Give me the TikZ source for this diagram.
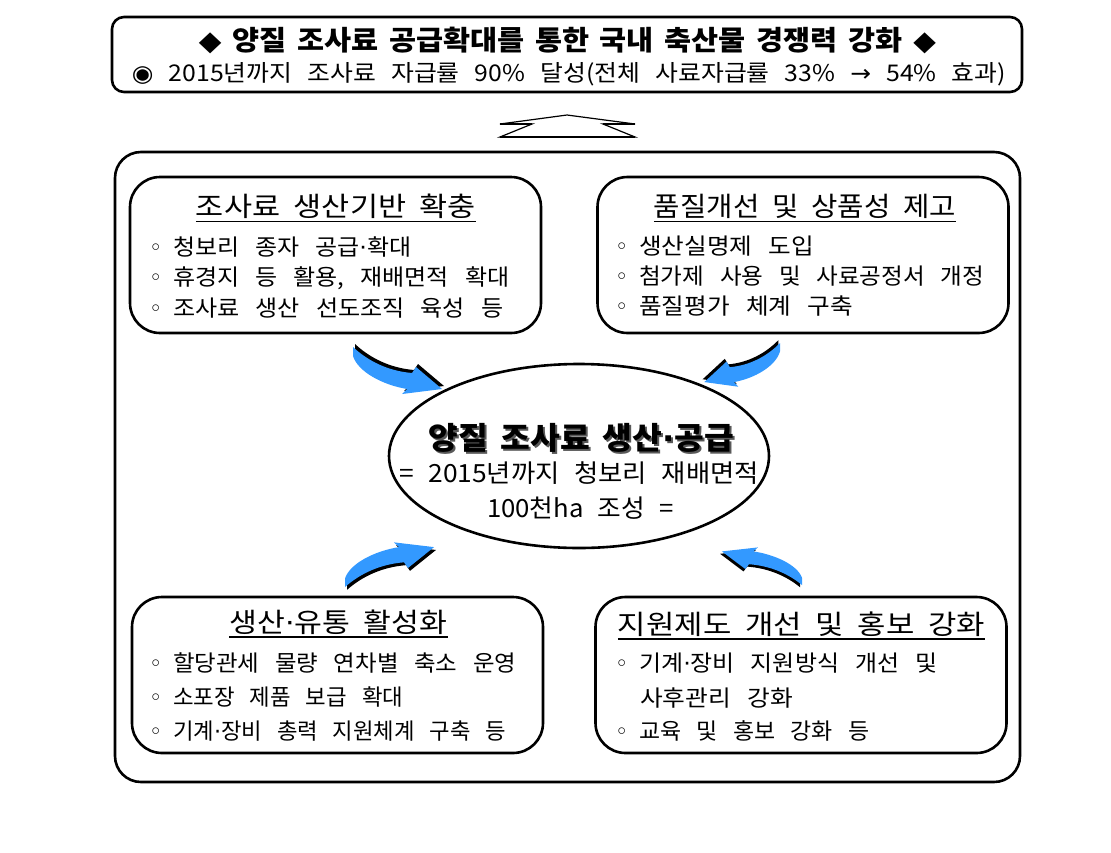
\documentclass[tikz,border=0pt]{standalone}
\usepackage{graphicx}
\usepackage{fontspec}
\setmainfont{Noto Sans CJK KR}
\newfontfamily\symfont{DejaVu Sans}
\definecolor{arrowblue}{RGB}{51,153,255}
\newcommand\bul{\makebox[24pt][l]{\symfont ◦}}
\newcommand\md{{\symfont ·}}
\newcommand\wsp[1]{\spaceskip#1\relax}
\newcommand\fitw[2]{\resizebox{#1pt}{\height}{#2}}
\begin{document}
\begin{tikzpicture}[x=1pt,y=-1pt,
  frame/.style={draw, line width=2.6pt, fill=white},
  panel/.style={frame, rounded corners=30pt, minimum width=411pt, minimum height=156pt, inner sep=0},
  ttl/.style={anchor=base, inner sep=0, font={\fontsize{27}{30}\selectfont\wsp{12pt}}},
  item/.style={anchor=base west, inner sep=0, font={\fontsize{22.5}{26}\selectfont\wsp{15pt}}},
  ctitle/.style={anchor=base, inner sep=0, font={\bfseries\fontsize{31}{34}\selectfont\wsp{12pt}}},
  cline/.style={anchor=base, inner sep=0, font={\fontsize{25}{28}\selectfont\wsp{14pt}}},
  uline/.style={line width=1.5pt},
  bluearrow/.pic={
    \fill[black, shift={(2,-3)}] (0,0) .. controls (15,14) and (35,24) .. (59,26) -- (63,20) -- (89,42) -- (49,47) -- (54,42) .. controls (30,38) and (5,25) .. (0,9) -- cycle;
    \fill[arrowblue] (0,0) .. controls (15,14) and (35,24) .. (59,26) -- (63,20) -- (89,42) -- (49,47) -- (54,42) .. controls (30,38) and (5,25) .. (0,9) -- cycle;
  }]
\useasboundingbox (0,0) rectangle (1111,852);

% top goal box
\node[frame, rounded corners=12pt, minimum width=910pt, minimum height=75pt, inner sep=0] (goal) at (567,54.5) {};
\node[anchor=base, inner sep=0, font={\bfseries\fontsize{27.5}{30}\selectfont\wsp{10pt}}] (goalt) at (567.5,50) {\fitw{737}{{\symfont ◆} 양질 조사료 공급확대를 통한 국내 축산물 경쟁력 강화 {\symfont ◆}}};
\node[anchor=base, inner sep=0, font={\fontsize{23}{26}\selectfont\wsp{14pt}}] (goals) at (569,81) {\fitw{874}{{\symfont ◉} 2015년까지 조사료 자급률 90\% 달성(전체 사료자급률 33\% {\symfont →} 54\% 효과)}};

% up arrow shape
\coordinate (ua) at (567,115);
\draw[line width=1.2pt, fill=white, line join=miter] (500,124) -- (ua) -- (635,124) -- (603,124) -- (635,137) -- (500,137) -- (532,124) -- cycle;
\draw[line width=2.4pt] (500,124) -- (532,124) (603,124) -- (635,124) (500,137) -- (635,137);

% outer frame
\node[frame, rounded corners=26pt, minimum width=905pt, minimum height=630pt, inner sep=0] (outer) at (567.5,467) {};

% four panels
\node[panel] (tl) at (335.5,255) {};
\node[panel] (tr) at (803,255) {};
\node[panel] (bl) at (337.5,675) {};
\node[panel] (br) at (801,675) {};

% TL
\node[ttl] (tlt) at (336,216.5) {\fitw{280}{조사료 생산기반 확충}};
\draw[uline] ([yshift=-5pt]tlt.base west) -- ([yshift=-5pt]tlt.base east);
\node[item] (tl1) at (149,255) {\bul\fitw{238}{청보리 종자 공급\md 확대}};
\node[item] (tl2) at (149,285) {\bul\fitw{336}{휴경지 등 활용, 재배면적 확대}};
\node[item] (tl3) at (149,316) {\bul\fitw{330}{조사료 생산 선도조직 육성 등}};

% TR
\node[ttl] (trt) at (805,216.5) {\fitw{302}{품질개선 및 상품성 제고}};
\draw[uline] ([yshift=-5pt]trt.base west) -- ([yshift=-5pt]trt.base east);
\node[item] (tr1) at (615,254) {\bul\fitw{175}{생산실명제 도입}};
\node[item] (tr2) at (615,284) {\bul\fitw{345}{첨가제 사용 및 사료공정서 개정}};
\node[item] (tr3) at (615,314) {\bul\fitw{214}{품질평가 체계 구축}};

% BL
\node[ttl] (blt) at (338.5,632) {\fitw{218}{생산\md 유통 활성화}};
\draw[uline] ([yshift=-5pt]blt.base west) -- ([yshift=-5pt]blt.base east);
\node[item] (bl1) at (149,671) {\bul\fitw{343}{할당관세 물량 연차별 축소 운영}};
\node[item] (bl2) at (149,705) {\bul\fitw{230}{소포장 제품 보급 확대}};
\node[item] (bl3) at (149,739) {\bul\fitw{333}{기계\md 장비 총력 지원체계 구축 등}};

% BR
\node[ttl] (brt) at (801.5,634) {\fitw{367}{지원제도 개선 및 홍보 강화}};
\draw[uline] ([yshift=-5pt]brt.base west) -- ([yshift=-5pt]brt.base east);
\node[item] (br1) at (615,671) {\bul\fitw{298}{기계\md 장비 지원방식 개선 및}};
\node[item] (br2) at (640,706) {\fitw{153}{사후관리 강화}};
\node[item] (br3) at (615,739) {\bul\fitw{230}{교육 및 홍보 강화 등}};

% centre ellipse
\draw[line width=2.6pt, fill=white] (579,456) ellipse [x radius=190, y radius=92];
\coordinate (cen) at (579,456);
\node[ctitle, text=black!65] (ctsh) at (583.5,451) {\fitw{305}{양질 조사료 생산\md 공급}};
\node[ctitle] (ct) at (581.5,449) {\fitw{305}{양질 조사료 생산\md 공급}};
\node[cline] (cl2) at (579,482) {\fitw{360}{= 2015년까지 청보리 재배면적}};
\node[cline] (cl3) at (580.5,517) {\fitw{187}{100천ha 조성 =}};

% curved blue arrows
\pic at (353,347) {bluearrow};
\pic[xscale=-0.85, yscale=0.93] at (780,343) {bluearrow};
\pic[yscale=-0.95] at (345,587) {bluearrow};
\pic[xscale=-0.9, yscale=-0.8] at (802,585) {bluearrow};
\end{tikzpicture}
\end{document}
